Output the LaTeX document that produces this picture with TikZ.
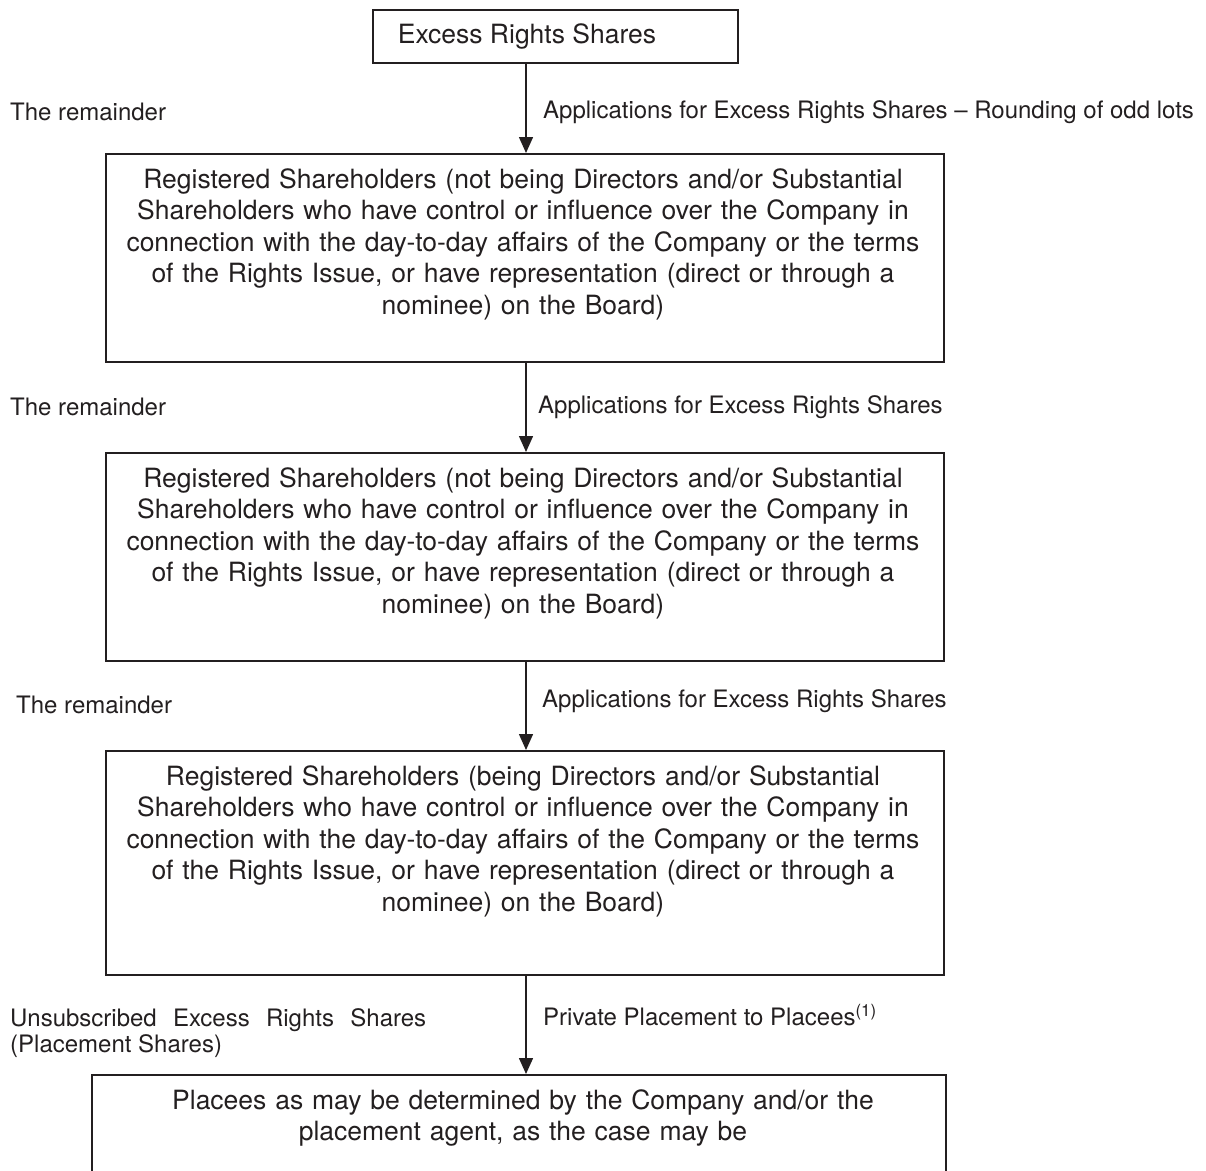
\documentclass[tikz,border=0pt]{standalone}
\usepackage{fontspec}
\setmainfont{TeX Gyre Heros}
\usetikzlibrary{arrows.meta}
\definecolor{ink}{HTML}{231F20}
\begin{document}
\begin{tikzpicture}[x=1pt,y=-1pt,
  box/.style={draw=ink,line width=1.5pt,inner sep=0pt,anchor=north west},
  boxtext/.style={anchor=north,align=center,text width=830pt,inner sep=0pt,text=ink,font=\fontsize{26.5}{31.5}\selectfont},
  lbl/.style={anchor=west,inner sep=0pt,text=ink,font=\fontsize{24}{27}\selectfont},
  arr/.style={draw=ink,line width=1.5pt,-{Triangle[length=16pt,width=14pt]}}]
\path[use as bounding box,clip] (0,0) rectangle (1206,1170);
\coordinate (ax) at (526,0);
% boxes
\node[box,minimum width=365pt,minimum height=53pt] (b1) at (372,9) {};
\node[box,minimum width=838pt,minimum height=208pt] (b2) at (105,153) {};
\node[box,minimum width=838pt,minimum height=208pt] (b3) at (105,452) {};
\node[box,minimum width=838pt,minimum height=224pt] (b4) at (105,750) {};
\node[box,minimum width=854pt,minimum height=120pt] (b5) at (91,1074) {};
% box texts
\node[anchor=center,inner sep=0pt,text=ink,font=\fontsize{26.5}{31.5}\selectfont] (t1) at (527,36) {Excess Rights Shares};
\node[boxtext] (t2) at (523,168) {Registered Shareholders (not being Directors and/or Substantial\\
Shareholders who have control or influence over the Company in\\
connection with the day-to-day affairs of the Company or the terms\\
of the Rights Issue, or have representation (direct or through a\\
nominee) on the Board)};
\node[boxtext] (t3) at (523,467) {Registered Shareholders (not being Directors and/or Substantial\\
Shareholders who have control or influence over the Company in\\
connection with the day-to-day affairs of the Company or the terms\\
of the Rights Issue, or have representation (direct or through a\\
nominee) on the Board)};
\node[boxtext] (t4) at (523,765) {Registered Shareholders (being Directors and/or Substantial\\
Shareholders who have control or influence over the Company in\\
connection with the day-to-day affairs of the Company or the terms\\
of the Rights Issue, or have representation (direct or through a\\
nominee) on the Board)};
\node[boxtext] (t5) at (523,1089) {Placees as may be determined by the Company and/or the\\
placement agent, as the case may be};
% arrows
\draw[arr] (ax |- b1.south) -- (ax |- b2.north);
\draw[arr] (ax |- b2.south) -- (ax |- b3.north);
\draw[arr] (ax |- b3.south) -- (ax |- b4.north);
\draw[arr] (ax |- b4.south) -- (ax |- b5.north);
% labels
\node[lbl] (l1) at (10,112) {The remainder};
\node[lbl] (r1) at (543,112) {Applications for Excess Rights Shares -- Rounding of odd lots};
\node[lbl] (l2) at (10,407) {The remainder};
\node[lbl] (r2) at (538,407) {Applications for Excess Rights Shares};
\node[lbl] (l3) at (16,705) {The remainder};
\node[lbl] (r3) at (542,701) {Applications for Excess Rights Shares};
\node[lbl,anchor=north west,text width=416pt,align=justify,font=\fontsize{24}{26}\selectfont] (l4) at (10,1008) {Unsubscribed Excess Rights Shares\linebreak (Placement Shares)};
\node[lbl] (r4) at (543,1015) {Private Placement to Placees\textsuperscript{(1)}};
\end{tikzpicture}
\end{document}
